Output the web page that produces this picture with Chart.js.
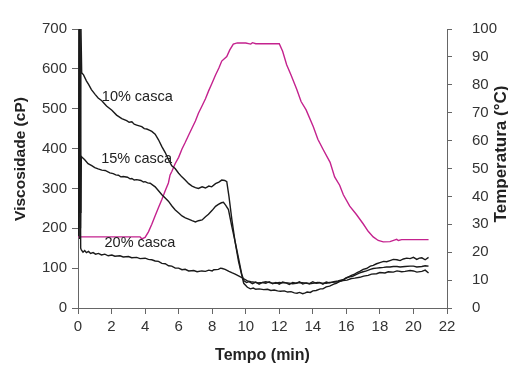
<!DOCTYPE html>
<html>
<head>
<meta charset="utf-8">
<script src="https://cdn.jsdelivr.net/npm/chart.js@4.4.1/dist/chart.umd.min.js"></script>
<style>
  body { margin: 0; background: #fff; }
  canvas { display: block; }
</style>
</head>
<body>
<canvas id="chart" width="508" height="365"></canvas>
<script>
// Tempo (min) e viscosidade (cP) para cada amostra
const tempo10 = [0.02, 0.07, 0.12, 0.17, 0.22, 0.33, 0.5, 0.63, 0.8, 1.02, 1.2, 1.42, 1.7, 2.02, 2.3, 2.61, 2.9, 3.05, 3.21, 3.35, 3.5, 3.65, 3.8, 3.95, 4.1, 4.25, 4.4, 4.6, 4.8, 5.0, 5.2, 5.4, 5.59, 5.79, 6.0, 6.19, 6.39, 6.6, 6.8, 7.0, 7.18, 7.4, 7.6, 7.8, 7.97, 8.2, 8.4, 8.57, 8.75, 8.87, 9.0, 9.17, 9.37, 9.57, 9.72, 9.88, 10.1, 10.28, 10.45, 10.6, 10.8, 11.07, 11.3, 11.5, 11.7, 11.9, 12.07, 12.3, 12.5, 12.7, 12.9, 13.06, 13.2, 13.4, 13.55, 13.66, 13.85, 14.0, 14.2, 14.45, 14.6, 14.8, 15.0, 15.25, 15.4, 15.6, 15.8, 16.04, 16.3, 16.45, 16.64, 16.8, 17.0, 17.2, 17.43, 17.6, 17.8, 18.0, 18.22, 18.4, 18.6, 18.8, 19.02, 19.2, 19.4, 19.6, 19.8, 20.0, 20.2, 20.35, 20.5, 20.7, 20.9];
const visc10 = [190, 720, 240, 720, 590, 585, 570, 561, 548, 536, 527, 520, 507, 496, 484, 475, 470, 466, 467, 461, 459, 457, 455, 450, 449, 446, 443, 436, 422, 405, 390, 372, 357, 350, 338, 329, 321, 312, 306, 302, 300, 304, 301, 306, 304, 312, 316, 321, 320, 317, 280, 223, 165, 117, 90, 62, 52, 48, 50, 47, 48, 46, 47, 44, 45, 43, 42, 43, 40, 41, 38, 37, 39, 36, 38, 40, 39, 43, 44, 48, 48, 53, 55, 60, 62, 67, 70, 76, 82, 84, 89, 92, 97, 99, 105, 107, 111, 114, 117, 116, 119, 122, 121, 119, 123, 125, 124, 127, 122, 125, 126, 121, 127];

const tempo15 = [0.04, 0.09, 0.15, 0.2, 0.4, 0.6, 0.82, 1.0, 1.2, 1.42, 1.62, 1.9, 2.1, 2.25, 2.41, 2.55, 2.7, 2.95, 3.1, 3.21, 3.35, 3.5, 3.75, 3.9, 4.0, 4.15, 4.3, 4.6, 4.8, 5.0, 5.2, 5.39, 5.6, 5.8, 5.99, 6.2, 6.4, 6.59, 6.8, 7.0, 7.18, 7.4, 7.6, 7.78, 8.0, 8.2, 8.37, 8.55, 8.67, 8.8, 8.97, 9.17, 9.37, 9.57, 9.76, 9.9, 10.05, 10.2, 10.4, 10.6, 10.8, 11.0, 11.2, 11.4, 11.6, 11.8, 12.0, 12.2, 12.4, 12.6, 12.8, 13.0, 13.2, 13.4, 13.6, 13.8, 14.0, 14.2, 14.4, 14.6, 14.8, 15.0, 15.25, 15.5, 15.84, 16.0, 16.2, 16.4, 16.64, 16.8, 17.0, 17.2, 17.43, 17.6, 17.8, 18.0, 18.22, 18.4, 18.6, 18.8, 19.02, 19.2, 19.5, 19.8, 20.0, 20.2, 20.5, 20.7, 20.9];
const visc15 = [180, 720, 200, 380, 372, 362, 357, 352, 349, 346, 345, 339, 337, 334, 333, 329, 330, 328, 324, 325, 321, 322, 320, 316, 317, 314, 313, 304, 294, 284, 276, 268, 256, 246, 239, 231, 226, 223, 219, 216, 219, 221, 229, 235, 245, 255, 260, 264, 265, 258, 247, 205, 166, 125, 85, 68, 64, 66, 61, 65, 60, 64, 62, 66, 61, 64, 60, 65, 63, 59, 64, 62, 66, 60, 63, 61, 66, 62, 64, 60, 65, 63, 66, 68, 72, 76, 78, 80, 85, 88, 91, 93, 97, 99, 100, 101, 102, 103, 103, 104, 104, 103, 104, 105, 105, 103, 104, 106, 105];

const tempo20 = [0.06, 0.11, 0.16, 0.2, 0.3, 0.4, 0.5, 0.63, 0.75, 0.9, 1.05, 1.22, 1.4, 1.6, 1.8, 2.02, 2.2, 2.5, 2.7, 3.01, 3.2, 3.5, 3.7, 4.0, 4.2, 4.4, 4.6, 4.8, 5.0, 5.2, 5.4, 5.59, 5.8, 6.0, 6.2, 6.39, 6.6, 6.9, 7.1, 7.38, 7.6, 7.8, 8.0, 8.1, 8.37, 8.5, 8.6, 8.77, 9.0, 9.2, 9.37, 9.6, 9.86, 10.1, 10.3, 10.5, 10.7, 11.0, 11.2, 11.5, 11.8, 12.0, 12.2, 12.5, 12.8, 13.0, 13.2, 13.5, 13.8, 14.0, 14.3, 14.5, 14.8, 15.0, 15.3, 15.5, 15.8, 16.04, 16.3, 16.5, 16.8, 17.03, 17.3, 17.5, 17.8, 18.0, 18.3, 18.5, 18.8, 19.02, 19.3, 19.5, 19.8, 20.0, 20.2, 20.5, 20.7, 20.9];
const visc20 = [175, 720, 150, 146, 140, 144, 139, 142, 137, 139, 135, 137, 133, 135, 131, 133, 130, 131, 128, 129, 126, 127, 124, 125, 122, 121, 118, 117, 112, 111, 106, 105, 100, 100, 96, 97, 93, 94, 91, 93, 92, 95, 93, 96, 97, 100, 99, 97, 92, 88, 85, 80, 74, 68, 66, 65, 63, 64, 66, 63, 62, 64, 63, 63, 61, 62, 64, 63, 61, 62, 64, 63, 62, 64, 65, 66, 69, 70, 74, 75, 77, 80, 82, 85, 86, 89, 88, 91, 90, 93, 91, 92, 94, 93, 90, 92, 95, 88];

// Temperatura (°C)
const tempoT = [0, 1.0, 2.0, 3.0, 3.7, 3.8, 4.0, 4.2, 4.4, 4.6, 4.8, 5.0, 5.2, 5.39, 5.49, 5.6, 5.79, 6.0, 6.2, 6.39, 6.6, 6.8, 7.0, 7.18, 7.4, 7.6, 7.8, 7.97, 8.2, 8.4, 8.57, 8.87, 9.05, 9.26, 9.5, 10.0, 10.3, 10.4, 10.6, 11.0, 12.0, 12.2, 12.44, 12.7, 13.04, 13.3, 13.6, 14.03, 14.3, 14.6, 15.03, 15.3, 15.6, 15.82, 16.2, 16.6, 17.01, 17.3, 17.6, 17.9, 18.2, 18.6, 18.9, 19.0, 19.1, 19.3, 20.0, 20.9];
const temperatura = [25.5, 25.5, 25.5, 25.5, 25.5, 24.8, 25.3, 27.3, 30, 33.1, 36, 38.9, 42, 44.8, 47.7, 49, 51.7, 54, 57, 59.3, 62, 64.5, 67, 69.8, 72.5, 75, 78, 80.3, 83.5, 86, 88.5, 90.1, 92.5, 94.6, 95, 95, 94.6, 95.1, 94.7, 94.7, 94.7, 92, 87.2, 83.5, 78.4, 74, 71, 65, 60.5, 57, 52.2, 47, 44, 40.6, 36.5, 33.5, 30.1, 27.5, 25.5, 24.2, 23.7, 23.8, 24.4, 24.6, 24.2, 24.5, 24.5, 24.5];

// rótulos das curvas: [texto, tempo, viscosidade]
const rotulos = [
    ['10% casca', 1.42, 530],
    ['15% casca', 1.38, 373],
    ['20% casca', 1.58, 162]
];

const pontos = (xs, ys) => xs.map((x, i) => ({ x: x, y: ys[i] }));

const FONTE = '"Liberation Sans", Arial, sans-serif';
Chart.defaults.font.family = FONTE;
Chart.defaults.color = '#333';

const textos = {
    id: 'textos',
    afterDatasetsDraw(chart) {
        const ctx = chart.ctx;
        const sx = chart.scales.x, sy = chart.scales.y;
        ctx.save();
        ctx.fillStyle = '#222';
        ctx.font = '14.5px ' + FONTE;
        ctx.textAlign = 'left';
        ctx.textBaseline = 'middle';
        rotulos.forEach(r => {
            ctx.fillText(r[0], sx.getPixelForValue(r[1]), sy.getPixelForValue(r[2]));
        });

        // títulos dos eixos verticais
        ctx.textAlign = 'center';
        ctx.font = 'bold 15.5px ' + FONTE;
        ctx.translate(20.5, 159);
        ctx.rotate(-Math.PI / 2);
        ctx.fillText('Viscosidade (cP)', 0, 0);
        ctx.restore();

        ctx.save();
        ctx.fillStyle = '#222';
        ctx.textAlign = 'center';
        ctx.textBaseline = 'middle';
        ctx.font = 'bold 17px ' + FONTE;
        ctx.translate(501, 154);
        ctx.rotate(-Math.PI / 2);
        ctx.fillText('Temperatura (°C)', 0, 0);
        ctx.restore();
    }
};

const eixo = (tick) => ({
    grid: { drawOnChartArea: false, drawTicks: true, tickLength: tick, color: '#666' },
    border: { color: '#666' }
});

const ctx = document.getElementById('chart').getContext('2d');
new Chart(ctx, {
    type: 'line',
    data: {
        datasets: [
            { label: '10% casca', data: pontos(tempo10, visc10), yAxisID: 'y', borderColor: '#1a1a1a' },
            { label: '15% casca', data: pontos(tempo15, visc15), yAxisID: 'y', borderColor: '#1a1a1a' },
            { label: '20% casca', data: pontos(tempo20, visc20), yAxisID: 'y', borderColor: '#1a1a1a' },
            { label: 'Temperatura', data: pontos(tempoT, temperatura), yAxisID: 'y1', borderColor: '#c4228e' }
        ]
    },
    options: {
        responsive: false,
        animation: false,
        layout: { padding: { top: 22, left: 0, right: 0, bottom: 0 } },
        elements: {
            point: { radius: 0 },
            line: { borderWidth: 1.4, tension: 0 }
        },
        plugins: {
            legend: { display: false },
            tooltip: { enabled: false }
        },
        scales: {
            x: {
                type: 'linear',
                min: 0, max: 22,
                ...eixo(6),
                ticks: { stepSize: 2, padding: 4, font: { size: 15 } },
                title: { display: true, text: 'Tempo (min)', color: '#222', font: { size: 16, weight: 'bold' }, padding: { top: 0, bottom: 0 } },
                afterFit: s => { s.height = 57; }
            },
            y: {
                position: 'left',
                min: 0, max: 700,
                ...eixo(6),
                ticks: { stepSize: 100, padding: 5, font: { size: 15 } },
                afterFit: s => { s.width = 78; }
            },
            y1: {
                position: 'right',
                min: 0, max: 100,
                ...eixo(5),
                ticks: { stepSize: 10, padding: 20, font: { size: 15 } },
                afterFit: s => { s.width = 61; }
            }
        }
    },
    plugins: [textos]
});
</script>
</body>
</html>
